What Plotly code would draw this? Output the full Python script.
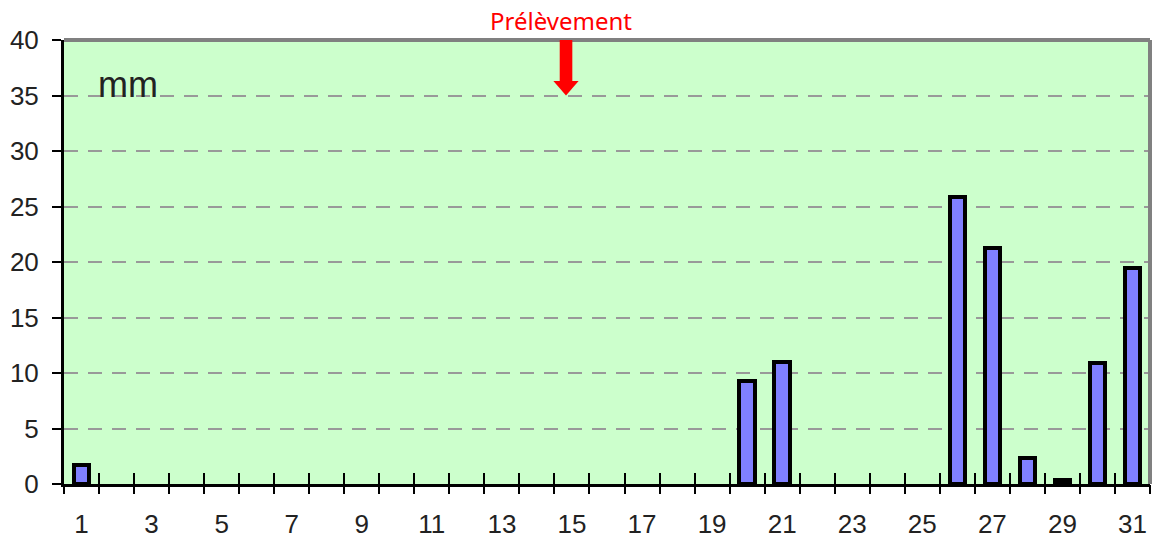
import plotly.graph_objects as go

# Daily rainfall (mm) for the month
days = list(range(1, 32))
rain_mm = [1.7, 0, 0, 0, 0, 0, 0, 0, 0, 0,
           0, 0, 0, 0, 0, 0, 0, 0, 0, 9.3,
           11.0, 0, 0, 0, 0, 25.9, 21.3, 2.3, 0.4, 10.9,
           19.5]
x_tick_labels = [str(d) for d in range(1, 32, 2)]
y_ticks = list(range(0, 45, 5))

sample_day = 14.83      # sampling date marker position
sample_label = "Prélèvement"

# dry days get no outline so nothing is drawn for them
outline_widths = [4 if v > 0 else 0 for v in rain_mm]

fig = go.Figure()

fig.add_trace(go.Bar(
    x=days, y=rain_mm, width=0.44,
    marker=dict(color="#8080FF", line=dict(color="#000000", width=outline_widths)),
    xaxis="x", yaxis="y", showlegend=False, hoverinfo="x+y",
))

boundaries = [d + 0.5 for d in range(0, 32)]
# invisible helpers so the tick-only axes get drawn
for ax in ("x2", "x3"):
    fig.add_trace(go.Scatter(x=[0.5, 31.5], y=[0, 0], mode="markers",
                             marker=dict(opacity=0), xaxis=ax, yaxis="y",
                             showlegend=False, hoverinfo="skip"))

tick_font = dict(family="Liberation Sans, Arial, sans-serif", size=26, color="#222222")

fig.update_layout(
    width=1157, height=542,
    margin=dict(l=64, r=7, t=40, b=58),
    paper_bgcolor="#FFFFFF",
    plot_bgcolor="#CCFFCC",
    bargap=0,
    xaxis=dict(
        range=[0.5, 31.5], tickmode="array",
        tickvals=[int(t) for t in x_tick_labels], ticktext=x_tick_labels,
        ticks="", showgrid=False, zeroline=False,
        showline=True, linecolor="#000000", linewidth=3,
        tickfont=tick_font, ticklabelstandoff=15, automargin=False,
    ),
    xaxis2=dict(
        range=[0.5, 31.5], overlaying="x", anchor="y", side="bottom",
        tickmode="array", tickvals=boundaries, ticks="outside",
        ticklen=9, tickwidth=2, tickcolor="#000000", automargin=False,
        showticklabels=False, showgrid=False, zeroline=False, showline=False,
    ),
    xaxis3=dict(
        range=[0.5, 31.5], overlaying="x", anchor="y", side="bottom",
        tickmode="array", tickvals=boundaries, ticks="inside",
        ticklen=11, tickwidth=2, tickcolor="#000000", automargin=False,
        showticklabels=False, showgrid=False, zeroline=False, showline=False,
    ),
    yaxis=dict(
        range=[0, 40], tickmode="array", tickvals=y_ticks,
        ticks="outside", ticklen=9, tickwidth=2, tickcolor="#000000",
        showline=True, linecolor="#000000", linewidth=3,
        showgrid=True, gridcolor="#999999", gridwidth=2, griddash="14px,10px",
        zeroline=False, tickfont=tick_font, ticklabelstandoff=8,
        automargin=False,
    ),
)

# grey frame on top and right
fig.add_shape(type="line", xref="x domain", yref="y domain",
              x0=0, x1=1, y0=1, y1=1, line=dict(color="#808080", width=4))
fig.add_shape(type="line", xref="x domain", yref="y domain",
              x0=1, x1=1, y0=0, y1=1, line=dict(color="#808080", width=4))

# sampling arrow
shaft_half = 0.18
head_half = 0.36
head_top = 36.3
fig.add_shape(type="rect", xref="x", yref="y",
              x0=sample_day - shaft_half, x1=sample_day + shaft_half,
              y0=head_top, y1=40, fillcolor="#FF0000", line=dict(width=0))
fig.add_shape(type="path", xref="x", yref="y",
              path=f"M {sample_day - head_half} {head_top} L {sample_day + head_half} {head_top} "
                   f"L {sample_day} 35 Z",
              fillcolor="#FF0000", line=dict(width=0))

fig.add_annotation(x=sample_day - 0.13, y=1.0, xref="x", yref="paper",
                   yshift=20, yanchor="middle", xanchor="center",
                   text=sample_label, showarrow=False,
                   font=dict(family="Noto Sans, sans-serif", size=24, color="#FF0000"))

fig.add_annotation(x=1.41, y=36.0, xref="x", yref="y",
                   xanchor="left", yanchor="middle", text="mm", showarrow=False,
                   font=dict(family="Liberation Sans, Arial, sans-serif", size=36, color="#222222"))

fig.write_html("out.html")
